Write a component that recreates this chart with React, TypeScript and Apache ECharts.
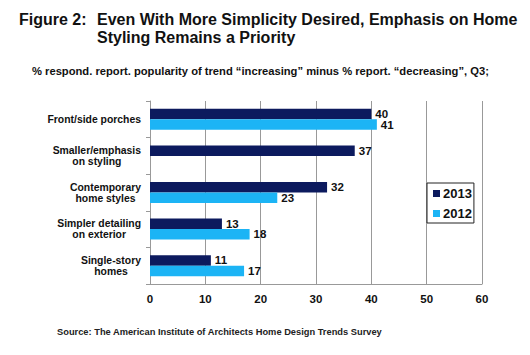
import React, { useEffect, useRef } from "react";
import * as echarts from "echarts";

const categories = [
  "Front/side porches",
  "Smaller/emphasis\non styling",
  "Contemporary\nhome styles",
  "Simpler detailing\non exterior",
  "Single-story\nhomes",
];
const values2013: (number | null)[] = [40, 37, 32, 13, 11];
const values2012: (number | null)[] = [41, null, 23, 18, 17];
const seriesNames = ["2013", "2012"];
const xTicks = { min: 0, max: 60, interval: 10 };

const FONT = "'Liberation Sans', Arial, sans-serif";
const CAT_FONT_SIZE = 10.4;

function measure(text: string, size: number): number {
  const c = document.createElement("canvas");
  const ctx = c.getContext("2d");
  if (!ctx) return text.length * size * 0.55;
  ctx.font = `bold ${size}px ${FONT}`;
  return ctx.measureText(text).width;
}

export default function App() {
  const ref = useRef<HTMLDivElement>(null);
  useEffect(() => {
    if (!ref.current) return;
    const chart = echarts.init(ref.current, undefined, { renderer: "svg" });
    const labelStyle = {
      show: true,
      position: "right" as const,
      distance: 4,
      color: "#111",
      fontWeight: "bold" as const,
      fontSize: 11.5,
      fontFamily: FONT,
    };
    // build centred multi-line category labels: trailing spacer tokens
    const rich: Record<string, any> = {
      c: {
        fontFamily: FONT,
        fontSize: CAT_FONT_SIZE,
        fontWeight: "bold",
        color: "#111",
        lineHeight: 11,
      },
    };
    let padCount = 0;
    const labelMap: Record<string, string> = {};
    categories.forEach((cat) => {
      const lines = cat.split("\n");
      const widths = lines.map((l) => measure(l, CAT_FONT_SIZE));
      const maxW = Math.max(...widths);
      labelMap[cat] = lines
        .map((l, i) => {
          const pad = (maxW - widths[i]) / 2;
          if (pad < 0.5) return `{c|${l}}`;
          const key = `p${padCount++}`;
          rich[key] = { width: pad, fontSize: CAT_FONT_SIZE, lineHeight: 11 };
          return `{c|${l}}{${key}| }`;
        })
        .join("\n");
    });
    chart.setOption({
      animation: false,
      backgroundColor: "#fff",
      title: [
        {
          text: "Figure 2:",
          left: 14,
          top: 5,
          textStyle: { fontFamily: FONT, fontSize: 16, fontWeight: "bold", color: "#111", lineHeight: 18 },
        },
        {
          text: "Even With More Simplicity Desired, Emphasis on Home\nStyling Remains a Priority",
          left: 92,
          top: 5,
          textStyle: { fontFamily: FONT, fontSize: 16, fontWeight: "bold", color: "#111", lineHeight: 18 },
        },
        {
          text: "% respond. report. popularity of trend \u201cincreasing\u201d minus % report. \u201cdecreasing\u201d, Q3;",
          left: 27,
          top: 60,
          textStyle: { fontFamily: FONT, fontSize: 11.2, fontWeight: "bold", color: "#111" },
        },
        {
          text: "Source: The American Institute of Architects Home Design Trends Survey",
          left: 52,
          top: 322,
          textStyle: { fontFamily: FONT, fontSize: 9.3, fontWeight: "bold", color: "#222" },
        },
      ],
      legend: {
        data: seriesNames,
        orient: "vertical",
        left: 427,
        top: 183,
        icon: "rect",
        itemWidth: 7,
        itemHeight: 7,
        itemGap: 7,
        padding: [4, 2, 3, 6],
        borderColor: "#222",
        borderWidth: 1,
        backgroundColor: "#fff",
        textStyle: { fontFamily: FONT, fontSize: 13, fontWeight: "bold", color: "#111", padding: [0, 0, 0, -2] },
      },
      grid: { left: 150, right: 48, top: 101, bottom: 71, containLabel: false },
      xAxis: {
        type: "value",
        min: xTicks.min,
        max: xTicks.max,
        interval: xTicks.interval,
        axisLine: { show: true, lineStyle: { color: "#999" } },
        axisTick: { show: false },
        splitLine: { show: true, lineStyle: { color: "#999", width: 1 } },
        axisLabel: { fontFamily: FONT, fontSize: 11.5, fontWeight: "bold", color: "#111", margin: 9 },
      },
      yAxis: {
        type: "category",
        data: categories,
        inverse: true,
        axisLine: { show: true, lineStyle: { color: "#999" } },
        axisTick: { show: true, length: 4, lineStyle: { color: "#999" } },
        axisLabel: {
          fontFamily: FONT,
          fontSize: CAT_FONT_SIZE,
          fontWeight: "bold",
          color: "#111",
          margin: 9,
          align: "right",
          lineHeight: 11,
          formatter: (v: string) => labelMap[v] ?? v,
          rich,
        },
      },
      series: [
        {
          name: seriesNames[0],
          type: "bar",
          data: values2013,
          barWidth: 10.5,
          barGap: "0%",
          itemStyle: { color: "#0c1a5e" },
          label: labelStyle,
        },
        {
          name: seriesNames[1],
          type: "bar",
          data: values2012,
          barWidth: 10.5,
          barGap: "0%",
          itemStyle: { color: "#1cb4f5" },
          label: labelStyle,
        },
      ],
    });
    return () => chart.dispose();
  }, []);
  return <div ref={ref} style={{ width: 530, height: 355, position: "absolute", left: 0, top: 0 }} />;
}
